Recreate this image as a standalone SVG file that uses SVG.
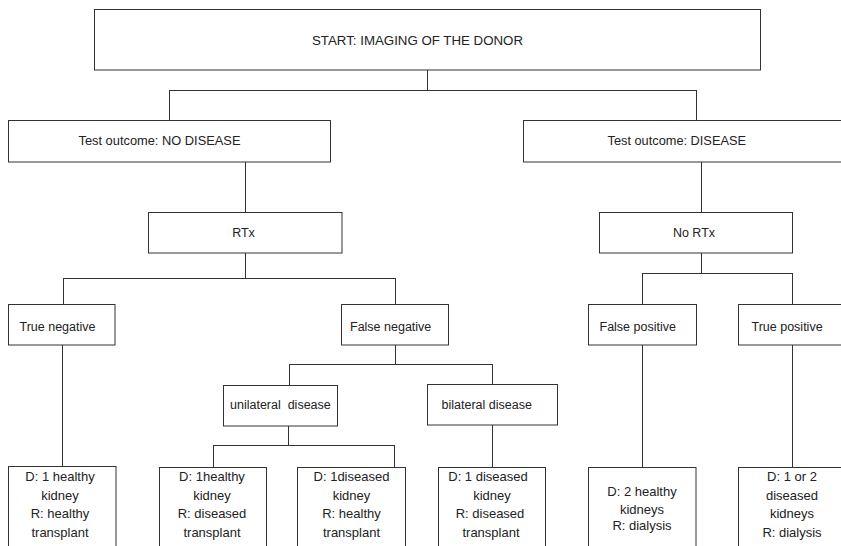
<svg xmlns="http://www.w3.org/2000/svg" width="841" height="546" viewBox="0 0 841 546">
<style>
.box{fill:#fff;stroke:#333;stroke-width:1}
.ln{fill:none;stroke:#333;stroke-width:1}
text{font-family:"Liberation Sans",Arial,sans-serif;font-size:12.5px;fill:#222}
.c{text-anchor:middle}
.d{font-size:13px;text-anchor:middle}
</style>
<rect width="841" height="546" fill="#fff"/>
<g id="connectors">
<path class="ln" d="M427.5 70V90.5M169.5 90.5H696.5M169.5 90V121M696.5 90V121"/>
<path class="ln" d="M245.5 162V212M701.5 162V212"/>
<path class="ln" d="M245.5 253V278.5M63.5 278.5H395.5M63.5 278V304M395.5 278V304"/>
<path class="ln" d="M701.5 253V273.5M642.5 273.5H792.5M642.5 273V304M792.5 273V304"/>
<path class="ln" d="M62.5 345V466"/>
<path class="ln" d="M395.5 345V364.5M289.5 364.5H492.5M289.5 364V385M492.5 364V384"/>
<path class="ln" d="M288.5 426V445.5M213.5 445.5H394.5M213.5 445V467M394.5 445V467"/>
<path class="ln" d="M492.5 425V467"/>
<path class="ln" d="M642.5 345V467M792.5 345V467"/>
</g>
<g id="start">
<rect class="box" x="94.5" y="9.5" width="666" height="60.5"/>
<text x="312" y="44.5" font-size="13" textLength="211" lengthAdjust="spacingAndGlyphs">START: IMAGING OF THE DONOR</text>
</g>
<g id="no-disease">
<rect class="box" x="8.5" y="120.5" width="322" height="41.5"/>
<text x="78.5" y="144.5" font-size="13" textLength="162" lengthAdjust="spacingAndGlyphs">Test outcome: NO DISEASE</text>
</g>
<g id="disease">
<rect class="box" x="523.5" y="120.5" width="320" height="41.5"/>
<text x="607.5" y="144.5" font-size="13" textLength="138.5" lengthAdjust="spacingAndGlyphs">Test outcome: DISEASE</text>
</g>
<g id="rtx">
<rect class="box" x="148.5" y="212.5" width="193.5" height="40.5"/>
<text class="c" x="243.5" y="236.5">RTx</text>
</g>
<g id="no-rtx">
<rect class="box" x="599.5" y="212.5" width="193" height="40.5"/>
<text class="c" x="694" y="236.5">No RTx</text>
</g>
<g id="true-negative">
<rect class="box" x="8.5" y="304.5" width="106.5" height="40.5"/>
<text x="19.5" y="330.5">True negative</text>
</g>
<g id="false-negative">
<rect class="box" x="341.5" y="304.5" width="107" height="40.5"/>
<text x="350" y="330.5">False negative</text>
</g>
<g id="false-positive">
<rect class="box" x="588.5" y="304.5" width="108" height="40.5"/>
<text x="599.5" y="330.5">False positive</text>
</g>
<g id="true-positive">
<rect class="box" x="738.5" y="304.5" width="105" height="40.5"/>
<text x="751.5" y="330.5">True positive</text>
</g>
<g id="unilateral">
<rect class="box" x="223.5" y="385.5" width="114" height="40.5"/>
<text x="230" y="409" xml:space="preserve">unilateral  disease</text>
</g>
<g id="bilateral">
<rect class="box" x="427.5" y="384.5" width="130" height="40.5"/>
<text x="441.5" y="409">bilateral disease</text>
</g>
<g id="outcome-tn">
<rect class="box" x="8.5" y="466.5" width="107.5" height="100"/>
<text class="d"><tspan x="60" y="481">D: 1 healthy</tspan><tspan x="60" y="499.5">kidney</tspan><tspan x="60" y="518">R: healthy</tspan><tspan x="60" y="536.5">transplant</tspan></text>
</g>
<g id="outcome-uni-healthy">
<rect class="box" x="159.5" y="467.5" width="107" height="100"/>
<text class="d"><tspan x="212" y="481">D: 1healthy</tspan><tspan x="212" y="499.5">kidney</tspan><tspan x="212" y="518">R: diseased</tspan><tspan x="212" y="536.5">transplant</tspan></text>
</g>
<g id="outcome-uni-diseased">
<rect class="box" x="297.5" y="467.5" width="108" height="100"/>
<text class="d"><tspan x="351.5" y="481">D: 1diseased</tspan><tspan x="351.5" y="499.5">kidney</tspan><tspan x="351.5" y="518">R: healthy</tspan><tspan x="351.5" y="536.5">transplant</tspan></text>
</g>
<g id="outcome-bilateral">
<rect class="box" x="438.5" y="467.5" width="107" height="100"/>
<text class="d"><tspan x="488" y="481">D: 1 diseased</tspan><tspan x="492" y="499.5">kidney</tspan><tspan x="490" y="518">R: diseased</tspan><tspan x="491" y="536.5">transplant</tspan></text>
</g>
<g id="outcome-fp">
<rect class="box" x="588.5" y="467.5" width="107.5" height="100"/>
<text class="d"><tspan x="642" y="495.5">D: 2 healthy</tspan><tspan x="642" y="513.5">kidneys</tspan><tspan x="642" y="530">R: dialysis</tspan></text>
</g>
<g id="outcome-tp">
<rect class="box" x="738.5" y="467.5" width="105" height="100"/>
<text class="d"><tspan x="792" y="481">D: 1 or 2</tspan><tspan x="792" y="499.5">diseased</tspan><tspan x="792" y="518">kidneys</tspan><tspan x="792" y="536.5">R: dialysis</tspan></text>
</g>
</svg>
